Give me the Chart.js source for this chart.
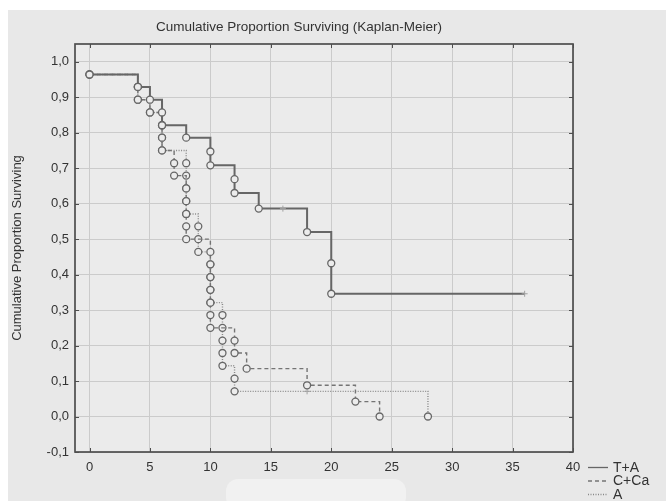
<!DOCTYPE html>
<html>
<head>
<meta charset="utf-8">
<script src="https://cdn.jsdelivr.net/npm/chart.js@4.4.1/dist/chart.umd.min.js"></script>
<style>
html,body{margin:0;padding:0;background:#fff;}
</style>
</head>
<body>
<canvas id="myChart" width="666" height="501"></canvas>
<script>
// survival data (time, cumulative proportion, censored flag)
var taTime=[0,4,5,6,6,8,10,10,12,12,14,16,18,20,20,36];
var taSurv=[0.964,0.929,0.893,0.857,0.821,0.786,0.747,0.708,0.669,0.630,0.586,0.586,0.520,0.432,0.346,0.346];
var taCens=[0,0,0,0,0,0,0,0,0,0,0,1,0,0,0,1];

var ccaTime=[0,4,4,5,6,6,6,7,7,8,8,8,8,8,10,10,10,10,10,10,10,12,12,13,18,22,24];
var ccaSurv=[0.964,0.929,0.893,0.857,0.821,0.786,0.750,0.714,0.679,0.643,0.607,0.571,0.536,0.500,0.464,0.429,0.393,0.357,0.321,0.286,0.250,0.214,0.179,0.135,0.088,0.042,0];
var ccaCens=[0,0,0,0,0,0,0,0,0,0,0,0,0,0,0,0,0,0,0,0,0,0,0,0,0,0,0];

var aTime=[0,4,4,5,6,6,6,8,8,8,8,8,9,9,9,10,10,10,10,11,11,11,11,11,12,12,18,28];
var aSurv=[0.964,0.929,0.893,0.857,0.821,0.786,0.750,0.714,0.679,0.643,0.607,0.571,0.536,0.500,0.464,0.429,0.393,0.357,0.321,0.286,0.250,0.214,0.179,0.143,0.107,0.071,0.071,0];
var aCens=[0,0,0,0,0,0,0,0,0,0,0,0,0,0,0,0,0,0,0,0,0,0,0,0,0,0,1,0];

var seriesNames=['T+A','C+Ca','A'];
var yTickLabels=['-0,1','0,0','0,1','0,2','0,3','0,4','0,5','0,6','0,7','0,8','0,9','1,0'];
var xTickLabels=['0','5','10','15','20','25','30','35','40'];

var FONT="'Liberation Sans', Arial, sans-serif";

function pts(t,s){
    var r=[];
    for(var i=0;i<t.length;i++) r.push({x:t[i],y:s[i]});
    return r;
}
function makeSet(name,t,s,c,color,dash,width){
    return {
        label:name,
        data:pts(t,s),
        stepped:true,
        borderColor:color,
        borderWidth:width,
        borderDash:dash,
        fill:false,
        pointStyle:c.map(function(v){return v?'cross':'circle';}),
        pointRadius:c.map(function(v){return v?3:3.5;}),
        pointBorderWidth:c.map(function(v){return v?1:1.3;}),
        pointBorderColor:c.map(function(v){return v?'#a0a0a0':'#666666';}),
        pointBackgroundColor:'#ececec'
    };
}

var bgPlugin={
    id:'bg',
    beforeDraw:function(chart){
        var ctx=chart.ctx,a=chart.chartArea;
        ctx.save();
        ctx.fillStyle='#ffffff';
        ctx.fillRect(0,0,chart.width,chart.height);
        ctx.fillStyle='#e8e8e8';
        ctx.fillRect(8,10,chart.width-8,chart.height-10);
        // light blotch at the bottom
        ctx.fillStyle='#f1f1f1';
        ctx.beginPath();
        if(ctx.roundRect) ctx.roundRect(226,479,180,30,12); else ctx.rect(226,479,180,30);
        ctx.fill();
        ctx.fillStyle='#ebebeb';
        ctx.fillRect(a.left,a.top,a.right-a.left,a.bottom-a.top);
        ctx.restore();
    },
    afterDraw:function(chart){
        var ctx=chart.ctx,a=chart.chartArea;
        var xs=chart.scales.x,ys=chart.scales.y;
        ctx.save();
        // frame
        ctx.strokeStyle='#4e4e4e';
        ctx.lineWidth=1.7;
        ctx.strokeRect(a.left,a.top,a.right-a.left,a.bottom-a.top);
        // inward ticks
        ctx.lineWidth=1;
        ctx.beginPath();
        xs.ticks.forEach(function(t){
            var px=Math.round(xs.getPixelForValue(t.value))+0.5;
            ctx.moveTo(px,a.top);ctx.lineTo(px,a.top+4);
            ctx.moveTo(px,a.bottom);ctx.lineTo(px,a.bottom-4);
        });
        ys.ticks.forEach(function(t){
            var py=Math.round(ys.getPixelForValue(t.value))+0.5;
            ctx.moveTo(a.left,py);ctx.lineTo(a.left+4,py);
            ctx.moveTo(a.right,py);ctx.lineTo(a.right-4,py);
        });
        ctx.stroke();
        // title
        ctx.fillStyle='#333';
        ctx.font='13.5px '+FONT;
        ctx.textAlign='center';
        ctx.textBaseline='middle';
        ctx.fillText('Cumulative Proportion Surviving (Kaplan-Meier)',299,27);
        // legend
        ctx.font='14px '+FONT;
        ctx.textAlign='left';
        chart.data.datasets.forEach(function(ds,i){
            var y=a.bottom+15+i*13.5;
            ctx.strokeStyle=ds.borderColor;
            ctx.lineWidth=1.3;
            ctx.setLineDash(ds.borderDash||[]);
            ctx.beginPath();
            ctx.moveTo(a.right+15,y+0.5);ctx.lineTo(a.right+35,y+0.5);
            ctx.stroke();
            ctx.setLineDash([]);
            ctx.fillStyle='#333';
            ctx.fillText(ds.label,a.right+40,y+1);
        });
        ctx.restore();
    }
};

var ctx=document.getElementById('myChart').getContext('2d');
var chart=new Chart(ctx,{
    type:'line',
    data:{
        datasets:[
            makeSet(seriesNames[0],taTime,taSurv,taCens,'#666666',[],2),
            makeSet(seriesNames[1],ccaTime,ccaSurv,ccaCens,'#747474',[4,3],1.4),
            makeSet(seriesNames[2],aTime,aSurv,aCens,'#888888',[1,1.5],1.4)
        ]
    },
    options:{
        responsive:false,
        animation:false,
        layout:{padding:{left:0,right:93,top:44,bottom:0}},
        plugins:{legend:{display:false},tooltip:{enabled:false},title:{display:false}},
        scales:{
            x:{
                type:'linear',
                min:-1.2,max:40,
                afterFit:function(s){s.height=49;},
                grid:{color:'#cbcbcb',drawTicks:false},
                border:{display:false},
                ticks:{
                    stepSize:5,includeBounds:false,padding:8,
                    color:'#333',font:{family:FONT,size:13},
                    callback:function(v){return xTickLabels[Math.round(v/5)];}
                }
            },
            y:{
                type:'linear',
                min:-0.1,max:1.05,
                afterFit:function(s){s.width=75;},
                grid:{color:'#cbcbcb',drawTicks:false},
                border:{display:false},
                title:{display:true,text:'Cumulative Proportion Surviving',color:'#333',
                    font:{family:FONT,size:13},padding:{top:10,bottom:0}},
                ticks:{
                    stepSize:0.1,includeBounds:false,padding:6,
                    color:'#333',font:{family:FONT,size:13},
                    callback:function(v){return yTickLabels[Math.round((v+0.1)*10)];}
                }
            }
        }
    },
    plugins:[bgPlugin]
});
</script>
</body>
</html>
